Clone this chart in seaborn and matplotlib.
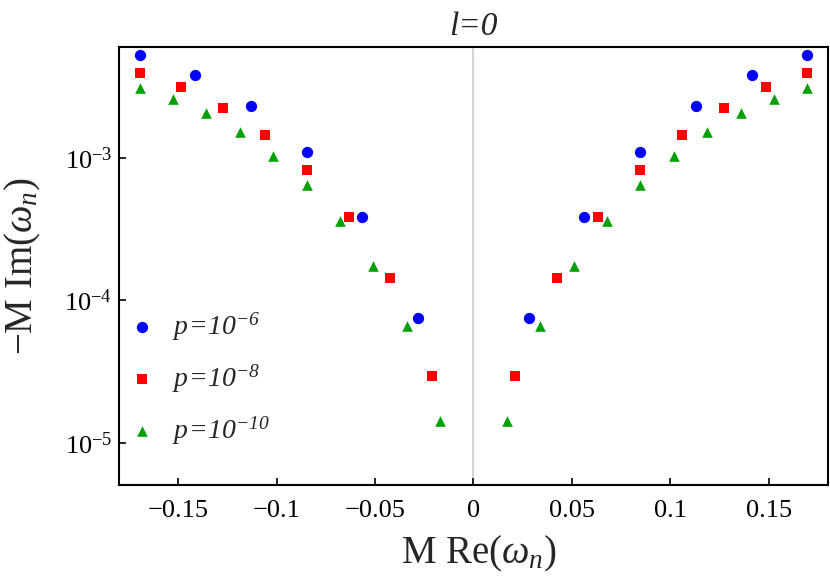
import numpy as np
import pandas as pd
import seaborn as sns
import matplotlib
matplotlib.use("Agg")
import matplotlib.pyplot as plt
from matplotlib.ticker import FixedLocator, FixedFormatter, NullLocator

# M Re(omega_n) and -M Im(omega_n), both branches
re_p6 = [-0.1696, -0.1413, -0.1130, -0.0846, -0.0564, -0.0282,
         0.0282, 0.0564, 0.0846, 0.1130, 0.1413, 0.1696]
im_p6 = [5.28e-3, 3.80e-3, 2.29e-3, 1.10e-3, 3.85e-4, 7.46e-5,
         7.46e-5, 3.85e-4, 1.10e-3, 2.29e-3, 3.80e-3, 5.28e-3]

re_p8 = [-0.1696, -0.1485, -0.1272, -0.1059, -0.0846, -0.0635, -0.0424, -0.0211,
         0.0211, 0.0424, 0.0635, 0.0846, 0.1059, 0.1272, 0.1485, 0.1696]
im_p8 = [3.93e-3, 3.11e-3, 2.25e-3, 1.45e-3, 8.15e-4, 3.86e-4, 1.42e-4, 2.94e-5,
         2.94e-5, 1.42e-4, 3.86e-4, 8.15e-4, 1.45e-3, 2.25e-3, 3.11e-3, 3.93e-3]

re_p10 = [-0.1696, -0.1526, -0.1357, -0.1187, -0.1018, -0.0848, -0.0678, -0.0509, -0.0339, -0.0170,
          0.0170, 0.0339, 0.0509, 0.0678, 0.0848, 0.1018, 0.1187, 0.1357, 0.1526, 0.1696]
im_p10 = [3.10e-3, 2.59e-3, 2.06e-3, 1.51e-3, 1.03e-3, 6.40e-4, 3.58e-4, 1.73e-4, 6.61e-5, 1.43e-5,
          1.43e-5, 6.61e-5, 1.73e-4, 3.58e-4, 6.40e-4, 1.03e-3, 1.51e-3, 2.06e-3, 2.59e-3, 3.10e-3]

# \mathsf is mapped to the italic serif below, so digits come out italic too
series_labels = [r'$\mathsf{p\!=\!10^{-6}}$', r'$\mathsf{p\!=\!10^{-8}}$', r'$\mathsf{p\!=\!10^{-10}}$']
xtick_vals = [-0.15, -0.1, -0.05, 0, 0.05, 0.1, 0.15]
xtick_labels = ['\u22120.15', '\u22120.1', '\u22120.05', '0', '0.05', '0.1', '0.15']
ytick_vals = [1e-5, 1e-4, 1e-3]
ytick_labels = [r'$10^{-5}$', r'$10^{-4}$', r'$10^{-3}$']

df = pd.concat([
    pd.DataFrame({'re': re_p6, 'im': im_p6, 'p': series_labels[0]}),
    pd.DataFrame({'re': re_p8, 'im': im_p8, 'p': series_labels[1]}),
    pd.DataFrame({'re': re_p10, 'im': im_p10, 'p': series_labels[2]}),
])

sns.set_theme(style="ticks")
plt.rcParams['font.family'] = ['Liberation Serif', 'DejaVu Serif']
plt.rcParams['mathtext.fontset'] = 'custom'
plt.rcParams['mathtext.rm'] = 'Liberation Serif'
plt.rcParams['mathtext.it'] = 'Liberation Serif:italic'
plt.rcParams['mathtext.bf'] = 'Liberation Serif:bold'
plt.rcParams['mathtext.sf'] = 'Liberation Serif:italic'

fig, ax = plt.subplots(figsize=(8.3, 5.85), dpi=100)
fig.subplots_adjust(left=0.1437, right=0.9972, bottom=0.1709, top=0.9197)

ax.axvline(0, color='#cccccc', lw=1.2, zorder=0)

styles = [('o', '#0000ff', 66), ('s', '#ff0000', 52), ('^', '#00a000', 58)]
for lab, (mk, col, sz) in zip(series_labels, styles):
    sns.scatterplot(data=df[df['p'] == lab], x='re', y='im', marker=mk, color=col,
                    s=sz, linewidth=0, label=lab, ax=ax, zorder=3)

ax.set_yscale('log')
ax.set_xlim(-0.18, 0.18)
ax.set_ylim(10**-5.297, 10**-2.223)

ax.xaxis.set_major_locator(FixedLocator(xtick_vals))
ax.xaxis.set_major_formatter(FixedFormatter(xtick_labels))
ax.yaxis.set_major_locator(FixedLocator(ytick_vals))
ax.yaxis.set_major_formatter(FixedFormatter(ytick_labels))
ax.yaxis.set_minor_locator(NullLocator())
ax.xaxis.set_minor_locator(NullLocator())

ax.tick_params(axis='x', direction='in', length=5, width=1.2, labelsize=19, pad=11, colors='black')
ax.tick_params(axis='y', direction='in', length=5, width=1.2, labelsize=19, pad=5, colors='black')
for sp in ax.spines.values():
    sp.set_linewidth(1.5)
    sp.set_color('black')

ax.set_xlabel(r'M Re($\omega_n$)', fontsize=28)
ax.set_ylabel(r'$-$M Im($\omega_n$)', fontsize=28)
ax.xaxis.set_label_coords(0.507, -0.112)
ax.yaxis.set_label_coords(-0.108, 0.5)
ax.set_title('l=0', fontstyle='italic', fontsize=24, pad=8.6)

ax.legend(loc='center left', bbox_to_anchor=(0.012, 0.243), frameon=False,
          fontsize=20, handlelength=1.0, handletextpad=0.6, labelspacing=0.7,
          borderpad=0, borderaxespad=0)

fig.savefig('out.png', dpi=100)
